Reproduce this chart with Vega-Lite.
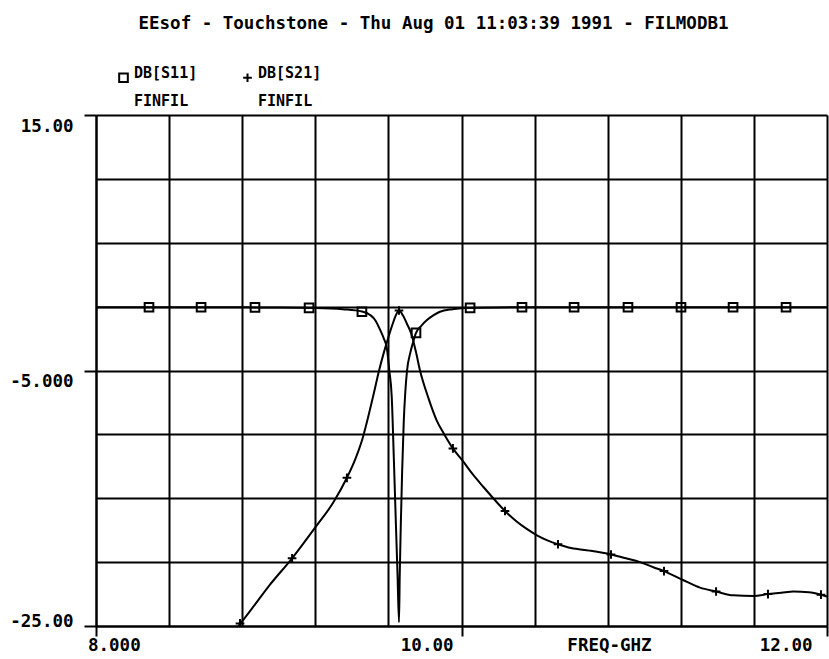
{
  "$schema": "https://vega.github.io/schema/vega-lite/v6.json",
  "width": 731,
  "height": 511,
  "autosize": {"type": "none"},
  "padding": {"left": 96, "top": 115, "right": 2, "bottom": 33},
  "background": "white",
  "title": {
    "text": "EEsof - Touchstone - Thu Aug 01 11:03:39 1991 - FILMODB1",
    "font": "DejaVu Sans Mono",
    "fontSize": 17.5,
    "fontWeight": "bold",
    "color": "black",
    "anchor": "middle",
    "frame": "group",
    "baseline": "bottom",
    "dx": -28,
    "offset": 20
  },
  "datasets": {
    "curve": [
      {"series": "DB[S11]", "freq": 8.0, "db": -0.05},
      {"series": "DB[S11]", "freq": 8.5, "db": -0.05},
      {"series": "DB[S11]", "freq": 9.0, "db": -0.07},
      {"series": "DB[S11]", "freq": 9.2, "db": -0.1},
      {"series": "DB[S11]", "freq": 9.35, "db": -0.2},
      {"series": "DB[S11]", "freq": 9.455, "db": -0.38},
      {"series": "DB[S11]", "freq": 9.5, "db": -0.65},
      {"series": "DB[S11]", "freq": 9.53, "db": -1.1},
      {"series": "DB[S11]", "freq": 9.554, "db": -1.8},
      {"series": "DB[S11]", "freq": 9.575, "db": -2.5},
      {"series": "DB[S11]", "freq": 9.592, "db": -3.3},
      {"series": "DB[S11]", "freq": 9.605, "db": -5.0},
      {"series": "DB[S11]", "freq": 9.618, "db": -7.0},
      {"series": "DB[S11]", "freq": 9.63, "db": -12.0},
      {"series": "DB[S11]", "freq": 9.641, "db": -17.0},
      {"series": "DB[S11]", "freq": 9.65, "db": -21.0},
      {"series": "DB[S11]", "freq": 9.658, "db": -24.7},
      {"series": "DB[S11]", "freq": 9.662, "db": -21.0},
      {"series": "DB[S11]", "freq": 9.668, "db": -17.0},
      {"series": "DB[S11]", "freq": 9.675, "db": -13.0},
      {"series": "DB[S11]", "freq": 9.684, "db": -9.0},
      {"series": "DB[S11]", "freq": 9.692, "db": -6.8},
      {"series": "DB[S11]", "freq": 9.702, "db": -5.0},
      {"series": "DB[S11]", "freq": 9.72, "db": -3.6},
      {"series": "DB[S11]", "freq": 9.735, "db": -2.8},
      {"series": "DB[S11]", "freq": 9.751, "db": -2.06},
      {"series": "DB[S11]", "freq": 9.78, "db": -1.5},
      {"series": "DB[S11]", "freq": 9.811, "db": -1.05},
      {"series": "DB[S11]", "freq": 9.85, "db": -0.65},
      {"series": "DB[S11]", "freq": 9.882, "db": -0.4},
      {"series": "DB[S11]", "freq": 9.95, "db": -0.2},
      {"series": "DB[S11]", "freq": 10.014, "db": -0.1},
      {"series": "DB[S11]", "freq": 10.2, "db": -0.06},
      {"series": "DB[S11]", "freq": 10.5, "db": -0.05},
      {"series": "DB[S11]", "freq": 11.0, "db": -0.05},
      {"series": "DB[S11]", "freq": 12.0, "db": -0.05},
      {"series": "DB[S21]", "freq": 8.78, "db": -25.0},
      {"series": "DB[S21]", "freq": 8.85, "db": -23.7},
      {"series": "DB[S21]", "freq": 8.95, "db": -21.8},
      {"series": "DB[S21]", "freq": 9.073, "db": -19.7},
      {"series": "DB[S21]", "freq": 9.204, "db": -17.2},
      {"series": "DB[S21]", "freq": 9.3, "db": -15.3},
      {"series": "DB[S21]", "freq": 9.373, "db": -13.4},
      {"series": "DB[S21]", "freq": 9.42, "db": -11.9},
      {"series": "DB[S21]", "freq": 9.461, "db": -10.2},
      {"series": "DB[S21]", "freq": 9.49, "db": -8.6},
      {"series": "DB[S21]", "freq": 9.52, "db": -6.8},
      {"series": "DB[S21]", "freq": 9.549, "db": -5.0},
      {"series": "DB[S21]", "freq": 9.575, "db": -3.6},
      {"series": "DB[S21]", "freq": 9.6, "db": -2.4},
      {"series": "DB[S21]", "freq": 9.62, "db": -1.5},
      {"series": "DB[S21]", "freq": 9.64, "db": -0.7},
      {"series": "DB[S21]", "freq": 9.658, "db": -0.3},
      {"series": "DB[S21]", "freq": 9.68, "db": -0.7},
      {"series": "DB[S21]", "freq": 9.7, "db": -1.3},
      {"series": "DB[S21]", "freq": 9.727, "db": -2.2},
      {"series": "DB[S21]", "freq": 9.75, "db": -3.5},
      {"series": "DB[S21]", "freq": 9.773, "db": -5.0},
      {"series": "DB[S21]", "freq": 9.82, "db": -7.2},
      {"series": "DB[S21]", "freq": 9.864, "db": -8.9},
      {"series": "DB[S21]", "freq": 9.91, "db": -10.1},
      {"series": "DB[S21]", "freq": 9.953, "db": -11.1},
      {"series": "DB[S21]", "freq": 10.008, "db": -12.1},
      {"series": "DB[S21]", "freq": 10.06, "db": -13.1},
      {"series": "DB[S21]", "freq": 10.119, "db": -14.1},
      {"series": "DB[S21]", "freq": 10.18, "db": -15.1},
      {"series": "DB[S21]", "freq": 10.238, "db": -16.0},
      {"series": "DB[S21]", "freq": 10.3, "db": -16.8},
      {"series": "DB[S21]", "freq": 10.357, "db": -17.4},
      {"series": "DB[S21]", "freq": 10.413, "db": -17.9},
      {"series": "DB[S21]", "freq": 10.47, "db": -18.3},
      {"series": "DB[S21]", "freq": 10.528, "db": -18.6},
      {"series": "DB[S21]", "freq": 10.6, "db": -18.9},
      {"series": "DB[S21]", "freq": 10.7, "db": -19.1},
      {"series": "DB[S21]", "freq": 10.818, "db": -19.4},
      {"series": "DB[S21]", "freq": 10.9, "db": -19.7},
      {"series": "DB[S21]", "freq": 10.977, "db": -20.0},
      {"series": "DB[S21]", "freq": 11.05, "db": -20.4},
      {"series": "DB[S21]", "freq": 11.108, "db": -20.7},
      {"series": "DB[S21]", "freq": 11.212, "db": -21.4},
      {"series": "DB[S21]", "freq": 11.305, "db": -22.0},
      {"series": "DB[S21]", "freq": 11.393, "db": -22.3},
      {"series": "DB[S21]", "freq": 11.487, "db": -22.6},
      {"series": "DB[S21]", "freq": 11.598, "db": -22.65},
      {"series": "DB[S21]", "freq": 11.677, "db": -22.5},
      {"series": "DB[S21]", "freq": 11.75, "db": -22.4},
      {"series": "DB[S21]", "freq": 11.816, "db": -22.3},
      {"series": "DB[S21]", "freq": 11.9, "db": -22.35},
      {"series": "DB[S21]", "freq": 11.967, "db": -22.55},
      {"series": "DB[S21]", "freq": 12.0, "db": -22.7}
    ],
    "markers": [
      {"series": "DB[S11]", "freq": 8.29, "db": -0.05},
      {"series": "DB[S11]", "freq": 8.575, "db": -0.05},
      {"series": "DB[S11]", "freq": 8.87, "db": -0.06},
      {"series": "DB[S11]", "freq": 9.166, "db": -0.1},
      {"series": "DB[S11]", "freq": 9.455, "db": -0.4},
      {"series": "DB[S11]", "freq": 9.751, "db": -2.06},
      {"series": "DB[S11]", "freq": 10.047, "db": -0.1},
      {"series": "DB[S11]", "freq": 10.331, "db": -0.05},
      {"series": "DB[S11]", "freq": 10.616, "db": -0.05},
      {"series": "DB[S11]", "freq": 10.911, "db": -0.05},
      {"series": "DB[S11]", "freq": 11.201, "db": -0.05},
      {"series": "DB[S11]", "freq": 11.486, "db": -0.05},
      {"series": "DB[S11]", "freq": 11.776, "db": -0.05},
      {"series": "DB[S21]", "freq": 8.788, "db": -24.8},
      {"series": "DB[S21]", "freq": 9.073, "db": -19.7},
      {"series": "DB[S21]", "freq": 9.373, "db": -13.4},
      {"series": "DB[S21]", "freq": 9.658, "db": -0.3},
      {"series": "DB[S21]", "freq": 9.953, "db": -11.1},
      {"series": "DB[S21]", "freq": 10.238, "db": -16.0},
      {"series": "DB[S21]", "freq": 10.528, "db": -18.6},
      {"series": "DB[S21]", "freq": 10.818, "db": -19.4},
      {"series": "DB[S21]", "freq": 11.108, "db": -20.7},
      {"series": "DB[S21]", "freq": 11.393, "db": -22.3},
      {"series": "DB[S21]", "freq": 11.677, "db": -22.5},
      {"series": "DB[S21]", "freq": 11.967, "db": -22.55}
    ]
  },
  "encoding": {
    "x": {
      "field": "freq",
      "type": "quantitative",
      "scale": {"domain": [8, 12], "nice": false, "zero": false},
      "axis": {
        "values": [8, 8.4, 8.8, 9.2, 9.6, 10, 10.4, 10.8, 11.2, 11.6, 12],
        "grid": true,
        "gridColor": "black",
        "gridWidth": 2,
        "gridOpacity": 1,
        "domainColor": "black",
        "domainWidth": 2,
        "tickColor": "black",
        "tickWidth": 2,
        "tickSize": 10,
        "tickOpacity": {"condition": {"test": "datum.value == 8 || datum.value == 10 || datum.value == 12", "value": 1}, "value": 0},
        "labelExpr": "datum.value == 8 ? '8.000' : datum.value == 10 ? '10.00' : datum.value == 12 ? '12.00' : ''",
        "labelAlign": {"condition": {"test": "datum.value == 8", "value": "left"}, "value": "right"},
        "labelOffset": {"condition": {"test": "datum.value == 12", "value": -15}, "value": -8.5},
        "labelBaseline": "top",
        "labelPadding": 0,
        "labelFlush": false,
        "labelOverlap": false,
        "labelFont": "DejaVu Sans Mono",
        "labelFontSize": 17.5,
        "labelFontWeight": "bold",
        "labelColor": "black",
        "title": "FREQ-GHZ",
        "titleX": 513,
        "titleY": 10,
        "titleAlign": "center",
        "titleBaseline": "top",
        "titleFont": "DejaVu Sans Mono",
        "titleFontSize": 17.5,
        "titleFontWeight": "bold",
        "titleColor": "black"
      }
    },
    "y": {
      "field": "db",
      "type": "quantitative",
      "scale": {"domain": [-25, 15], "nice": false, "zero": false},
      "axis": {
        "values": [-25, -20, -15, -10, -5, 0, 5, 10, 15],
        "grid": true,
        "gridColor": "black",
        "gridWidth": 2,
        "gridOpacity": 1,
        "domainColor": "black",
        "domainWidth": 2,
        "tickColor": "black",
        "tickWidth": 2,
        "tickSize": 12,
        "tickOpacity": {"condition": {"test": "datum.value == 15 || datum.value == -5 || datum.value == -25", "value": 1}, "value": 0},
        "labelExpr": "datum.value == 15 ? '15.00' : datum.value == -5 ? '-5.000' : datum.value == -25 ? '-25.00' : ''",
        "labelAlign": "right",
        "labelBaseline": "top",
        "labelOffset": {"condition": {"test": "datum.value == -25", "value": -14}, "value": 2},
        "labelPadding": 11,
        "labelOverlap": false,
        "labelFont": "DejaVu Sans Mono",
        "labelFontSize": 17.5,
        "labelFontWeight": "bold",
        "labelColor": "black",
        "title": null
      }
    }
  },
  "layer": [
    {
      "data": {"name": "curve"},
      "mark": {"type": "line", "color": "black", "strokeWidth": 2, "clip": true, "interpolate": "monotone"},
      "encoding": {"detail": {"field": "series", "type": "nominal"}}
    },
    {
      "data": {"name": "markers"},
      "mark": {"type": "point", "filled": false, "color": "black", "strokeWidth": 2, "opacity": 1, "size": 75, "clip": true},
      "encoding": {
        "shape": {
          "field": "series",
          "type": "nominal",
          "scale": {"domain": ["DB[S11]", "DB[S21]"], "range": ["square", "M-1,0H1M0,-1V1"]},
          "legend": {
            "orient": "none",
            "legendX": 20,
            "legendY": -45,
            "direction": "horizontal",
            "title": null,
            "labelExpr": "[datum.label, 'FINFIL']",
            "labelFont": "DejaVu Sans Mono",
            "labelFontSize": 15,
            "labelFontWeight": "bold",
            "labelColor": "black",
            "labelBaseline": "alphabetic",
            "labelLimit": 300,
            "labelOffset": 3,
            "columnPadding": 41,
            "padding": 0,
            "symbolSize": 75,
            "symbolStrokeColor": "black",
            "symbolFillColor": "transparent",
            "symbolStrokeWidth": 2
          }
        }
      }
    }
  ],
  "config": {
    "view": {"stroke": null},
    "style": {"guide-label": {"lineHeight": 28}}
  }
}
